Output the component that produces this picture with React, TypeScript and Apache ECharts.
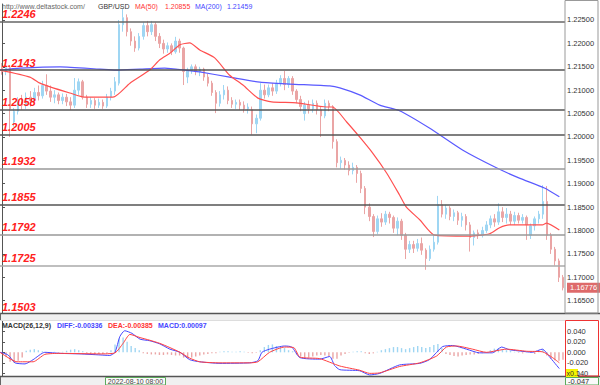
import React, { useEffect, useRef } from "react";
import * as echarts from "echarts";

// [open, close, low, high]
const candles: number[][] = [
  [1.2150, 1.2140, 1.2133, 1.2158], [1.2140, 1.2148, 1.2132, 1.2153], [1.2148, 1.2060, 1.2000, 1.2152],
  [1.2032, 1.2055, 1.2022, 1.2062], [1.2055, 1.2075, 1.2048, 1.2085], [1.2075, 1.2068, 1.2058, 1.2090],
  [1.2068, 1.2085, 1.2060, 1.2095], [1.2085, 1.2078, 1.2065, 1.2098], [1.2078, 1.2095, 1.2070, 1.2105],
  [1.2095, 1.2088, 1.2078, 1.2110], [1.2088, 1.2110, 1.2082, 1.2120], [1.2110, 1.2098, 1.2090, 1.2134],
  [1.2098, 1.2085, 1.2075, 1.2110], [1.2085, 1.2090, 1.2072, 1.2100], [1.2090, 1.2078, 1.2070, 1.2095],
  [1.2078, 1.2085, 1.2070, 1.2093], [1.2085, 1.2075, 1.2066, 1.2092], [1.2075, 1.2068, 1.2058, 1.2085],
  [1.2068, 1.2100, 1.2062, 1.2126], [1.2100, 1.2118, 1.2090, 1.2125], [1.2118, 1.2085, 1.2080, 1.2122],
  [1.2085, 1.2070, 1.2062, 1.2090], [1.2070, 1.2078, 1.2062, 1.2085], [1.2078, 1.2068, 1.2060, 1.2083],
  [1.2068, 1.2074, 1.2062, 1.2082], [1.2074, 1.2066, 1.2060, 1.2080], [1.2066, 1.2085, 1.2062, 1.2092],
  [1.2085, 1.2098, 1.2078, 1.2105], [1.2098, 1.2118, 1.2090, 1.2128], [1.2115, 1.2240, 1.2110, 1.2250],
  [1.2240, 1.2255, 1.2225, 1.2274], [1.2255, 1.2225, 1.2215, 1.2262], [1.2225, 1.2205, 1.2195, 1.2232],
  [1.2205, 1.2190, 1.2182, 1.2215], [1.2190, 1.2215, 1.2185, 1.2222], [1.2215, 1.2238, 1.2208, 1.2245],
  [1.2238, 1.2225, 1.2215, 1.2248], [1.2225, 1.2240, 1.2218, 1.2248], [1.2240, 1.2215, 1.2205, 1.2245],
  [1.2215, 1.2200, 1.2190, 1.2222], [1.2200, 1.2188, 1.2178, 1.2208], [1.2188, 1.2195, 1.2180, 1.2202],
  [1.2195, 1.2182, 1.2175, 1.2200], [1.2182, 1.2205, 1.2178, 1.2214], [1.2205, 1.2190, 1.2180, 1.2210],
  [1.2190, 1.2140, 1.2111, 1.2193], [1.2128, 1.2142, 1.2115, 1.2148], [1.2142, 1.2150, 1.2135, 1.2155],
  [1.2150, 1.2140, 1.2132, 1.2155], [1.2140, 1.2145, 1.2130, 1.2150], [1.2145, 1.2128, 1.2120, 1.2148],
  [1.2128, 1.2115, 1.2108, 1.2135], [1.2115, 1.2095, 1.2088, 1.2120], [1.2095, 1.2072, 1.2051, 1.2100],
  [1.2072, 1.2090, 1.2065, 1.2098], [1.2090, 1.2100, 1.2080, 1.2111], [1.2100, 1.2078, 1.2070, 1.2108],
  [1.2078, 1.2070, 1.2062, 1.2085], [1.2070, 1.2074, 1.2060, 1.2080], [1.2074, 1.2068, 1.2058, 1.2080],
  [1.2068, 1.2060, 1.2052, 1.2076], [1.2060, 1.2064, 1.2050, 1.2072], [1.2058, 1.2028, 1.2005, 1.2065],
  [1.2028, 1.2040, 1.2008, 1.2048], [1.2040, 1.2100, 1.2035, 1.2115], [1.2100, 1.2090, 1.2082, 1.2112],
  [1.2090, 1.2105, 1.2085, 1.2112], [1.2105, 1.2098, 1.2088, 1.2115], [1.2098, 1.2115, 1.2092, 1.2122],
  [1.2115, 1.2125, 1.2108, 1.2132], [1.2125, 1.2112, 1.2100, 1.2141], [1.2112, 1.2125, 1.2105, 1.2130],
  [1.2125, 1.2098, 1.2090, 1.2130], [1.2098, 1.2080, 1.2072, 1.2102], [1.2080, 1.2065, 1.2055, 1.2088],
  [1.2050, 1.2068, 1.2035, 1.2075], [1.2068, 1.2060, 1.2050, 1.2078], [1.2060, 1.2072, 1.2052, 1.2080],
  [1.2072, 1.2058, 1.2048, 1.2078], [1.2058, 1.2045, 1.2000, 1.2065], [1.2045, 1.2072, 1.2040, 1.2080],
  [1.2072, 1.2065, 1.2055, 1.2078], [1.2065, 1.1990, 1.1975, 1.2068], [1.1990, 1.1945, 1.1935, 1.1995],
  [1.1945, 1.1950, 1.1932, 1.1958], [1.1950, 1.1940, 1.1930, 1.1955], [1.1940, 1.1928, 1.1918, 1.1948],
  [1.1928, 1.1935, 1.1920, 1.1945], [1.1935, 1.1922, 1.1902, 1.1940], [1.1922, 1.1890, 1.1880, 1.1928],
  [1.1890, 1.1850, 1.1835, 1.1895], [1.1850, 1.1830, 1.1820, 1.1858], [1.1830, 1.1798, 1.1786, 1.1835],
  [1.1798, 1.1825, 1.1792, 1.1832], [1.1825, 1.1818, 1.1808, 1.1837], [1.1818, 1.1835, 1.1812, 1.1842],
  [1.1835, 1.1828, 1.1815, 1.1840], [1.1828, 1.1805, 1.1795, 1.1832], [1.1805, 1.1820, 1.1790, 1.1828],
  [1.1820, 1.1790, 1.1780, 1.1825], [1.1790, 1.1760, 1.1739, 1.1795], [1.1760, 1.1770, 1.1752, 1.1778],
  [1.1770, 1.1762, 1.1752, 1.1778], [1.1762, 1.1772, 1.1755, 1.1782], [1.1772, 1.1758, 1.1748, 1.1785],
  [1.1758, 1.1740, 1.1716, 1.1762], [1.1740, 1.1760, 1.1735, 1.1768], [1.1760, 1.1775, 1.1755, 1.1790],
  [1.1775, 1.1855, 1.1770, 1.1874], [1.1855, 1.1835, 1.1828, 1.1865], [1.1835, 1.1848, 1.1825, 1.1855],
  [1.1848, 1.1830, 1.1822, 1.1852], [1.1830, 1.1838, 1.1820, 1.1845], [1.1838, 1.1822, 1.1812, 1.1842],
  [1.1822, 1.1830, 1.1808, 1.1838], [1.1830, 1.1812, 1.1800, 1.1835], [1.1812, 1.1785, 1.1755, 1.1818],
  [1.1785, 1.1795, 1.1768, 1.1800], [1.1795, 1.1790, 1.1782, 1.1802], [1.1790, 1.1800, 1.1785, 1.1808],
  [1.1800, 1.1812, 1.1795, 1.1820], [1.1812, 1.1825, 1.1805, 1.1832], [1.1825, 1.1818, 1.1808, 1.1835],
  [1.1818, 1.1840, 1.1812, 1.1858], [1.1840, 1.1828, 1.1818, 1.1850], [1.1828, 1.1835, 1.1815, 1.1848],
  [1.1835, 1.1820, 1.1812, 1.1842], [1.1820, 1.1832, 1.1812, 1.1840], [1.1832, 1.1822, 1.1815, 1.1838],
  [1.1822, 1.1828, 1.1815, 1.1835], [1.1828, 1.1812, 1.1780, 1.1832], [1.1790, 1.1810, 1.1782, 1.1815],
  [1.1810, 1.1825, 1.1800, 1.1830], [1.1825, 1.1835, 1.1815, 1.1842], [1.1835, 1.1862, 1.1825, 1.1897],
  [1.1862, 1.1790, 1.1780, 1.1895], [1.1790, 1.1760, 1.1750, 1.1795], [1.1760, 1.1735, 1.1725, 1.1765],
  [1.1735, 1.1700, 1.1690, 1.1740], [1.1700, 1.16776, 1.1672, 1.1705],
];

const categories: string[] = candles.map((_, i) => String(i));

// [candle index, price]
const ma50: number[][] = [
  [-0.5, 1.2143], [6.9, 1.2128], [9.4, 1.2115], [11.9, 1.2107], [16.8, 1.2094], [20.5, 1.2085],
  [27.5, 1.2085], [31.7, 1.2115], [36.6, 1.2143], [39.1, 1.2165], [41.6, 1.2179], [44.1, 1.2197],
  [46.5, 1.2201], [49.0, 1.2186], [52.7, 1.2169], [56.4, 1.2132], [59.7, 1.2111], [63.4, 1.2083],
  [66.8, 1.2075], [73.0, 1.2073], [80.4, 1.2064], [81.9, 1.2064], [85.4, 1.2032], [88.6, 1.2000],
  [91.8, 1.1966], [95.3, 1.1923], [98.5, 1.1876], [100.2, 1.1850], [103.5, 1.1823], [107.2, 1.1790],
  [115.8, 1.1788], [120.8, 1.1793], [123.3, 1.1806], [125.7, 1.1812], [133.9, 1.1812], [134.9, 1.1816],
  [138.1, 1.1801],
];
const ma200: number[][] = [
  [-0.5, 1.2143], [4.5, 1.2147], [14.4, 1.2150], [24.3, 1.2145], [28.2, 1.2143], [34.2, 1.2145],
  [40.3, 1.2147], [45.3, 1.2143], [49.0, 1.2139], [56.4, 1.2128], [63.9, 1.2117], [71.3, 1.2113],
  [81.2, 1.2109], [83.7, 1.2105], [88.6, 1.2090], [93.6, 1.2068], [98.5, 1.2056], [105.9, 1.2019],
  [114.1, 1.1972], [122.5, 1.1934], [128.2, 1.1912], [134.4, 1.1891], [138.1, 1.1872],
];

const diff: number[][] = [
  [-0.5, 0], [1.5, -0.005], [3.2, -0.02], [5.7, -0.022], [7.7, -0.014], [10.6, 0], [14.4, -0.002],
  [19.3, -0.003], [24.3, -0.005], [26.7, -0.006], [28.0, 0], [29.2, 0.03], [30.4, 0.041], [32.2, 0.036],
  [34.2, 0.025], [36.6, 0.022], [39.1, 0.016], [41.6, 0.006], [44.1, 0], [46.5, -0.014], [49.0, -0.018],
  [54.0, -0.021], [61.4, -0.02], [63.4, -0.016], [64.4, 0], [66.3, 0.006], [70.0, 0.012], [71.8, 0.01],
  [73.8, -0.01], [78.7, -0.013], [81.2, -0.008], [82.4, -0.025], [83.7, -0.033], [88.6, -0.035],
  [91.1, -0.043], [93.6, -0.04], [98.5, -0.024], [103.5, -0.021], [105.9, -0.014], [107.7, 0],
  [109.2, 0.011], [111.6, 0.013], [115.1, 0.006], [118.3, -0.001], [121.5, -0.001], [123.8, 0.01],
  [125.7, 0.005], [130.0, 0.001], [131.4, 0], [133.9, 0.006], [135.6, -0.008], [138.1, -0.031],
];
const dea: number[][] = [
  [-0.5, 0], [3.7, -0.018], [7.7, -0.018], [10.6, -0.004], [14.4, -0.002], [24.3, -0.003], [28.0, -0.001],
  [30.0, 0.017], [31.7, 0.034], [34.2, 0.028], [36.6, 0.023], [39.1, 0.017], [41.6, 0.009], [44.1, 0],
  [46.5, -0.011], [49.0, -0.018], [54.0, -0.02], [61.4, -0.02], [63.4, -0.018], [66.3, 0], [70.0, 0.01],
  [72.3, 0.009], [73.8, -0.009], [78.7, -0.012], [83.7, -0.026], [88.6, -0.034], [91.1, -0.04],
  [93.6, -0.039], [98.5, -0.027], [103.5, -0.02], [107.7, -0.007], [110.1, 0.01], [112.6, 0.012],
  [116.6, 0.006], [120.0, 0], [125.0, 0.006], [130.0, 0.002], [133.9, 0.001], [136.4, -0.01], [138.1, -0.02],
];
const hist: number[] = [
  0, -0.008, -0.018, -0.02, -0.016, -0.01, 0.003, 0.005, 0.006, 0.004, 0.002,
  -0.002, -0.001, 0.001, -0.001, 0.001, 0.003, 0.005, 0.006, 0.004, 0.002,
  -0.002, -0.003, -0.004, -0.003, -0.003, -0.002, 0.004, 0.015, 0.026, 0.028, 0.02,
  0.012, 0.008, 0.004, -0.002, -0.003, -0.004, -0.004, -0.005, -0.005, -0.004, -0.005, -0.006, -0.006,
  -0.01, -0.012, -0.01, -0.008, -0.006,
  -0.004, -0.003, -0.002, -0.002, 0.001, 0.002, 0.002, 0.001, 0.001, 0.002, 0.001, -0.001, -0.002, -0.001,
  0.004, 0.01, 0.014, 0.015, 0.012, 0.01, 0.008, 0.004, 0.002,
  -0.004, -0.008, -0.01, -0.01, -0.008, -0.006, -0.005, -0.006, -0.008, -0.012, -0.012,
  -0.006, -0.003, -0.001, 0.001, 0.002, 0.002, -0.002, -0.003, -0.002, 0.001,
  0.004, 0.006, 0.008, 0.01, 0.01, 0.008, 0.006, 0.008, 0.01, 0.012, 0.01, 0.008,
  0.01, 0.014, 0.016, 0.008,
  -0.003, -0.005, -0.007, -0.008, -0.006, -0.005, -0.004, -0.004, -0.003, -0.002, -0.001,
  0.004, 0.007, 0.008, 0.006, 0.004, 0.003, 0.001,
  -0.001, -0.002, 0.001, -0.001, -0.003, 0.003, 0.006, -0.006, -0.012, -0.015, -0.016, -0.014,
];

const levels: number[] = [1.2246, 1.2143, 1.2058, 1.2005, 1.1932, 1.1855, 1.1792, 1.1725];
const levelColors: string[] = ["#666", "#555", "#555", "#555", "#999", "#555", "#999", "#aaa"];
const lowLevel = "1.1503";
const priceTicks: number[] = [1.165, 1.17, 1.175, 1.18, 1.185, 1.19, 1.195, 1.2, 1.205, 1.21, 1.215, 1.22, 1.225];
const macdTicks: number[] = [-0.04, -0.02, 0, 0.02, 0.04];
const headerItems = [
  { text: "http://www.deltastock.com/", x: 2, color: "#666" },
  { text: "GBP/USD", x: 98, color: "#333" },
  { text: "MA(50)", x: 135, color: "#ff3333" },
  { text: "1.20855", x: 165, color: "#ff3333" },
  { text: "MA(200)", x: 195, color: "#4646ff" },
  { text: "1.21459", x: 227, color: "#4646ff" },
];
const macdItems = [
  { text: "MACD(26,12,9)", x: 2, color: "#333" },
  { text: "DIFF:-0.00336", x: 57, color: "#4646ff" },
  { text: "DEA:-0.00385", x: 108, color: "#ff3333" },
  { text: "MACD:0.00097", x: 158, color: "#4646ff" },
];
const cursorDate = "2022-08-10 08:00";
const cursorMacd = "-0.047";

const FONT = "Liberation Sans, Arial, sans-serif";
const UP = "#9fd6f3";
const DOWN = "#eaa5a5";

export default function App() {
  const ref = useRef<HTMLDivElement>(null);
  useEffect(() => {
    if (!ref.current) return;
    const chart = echarts.init(ref.current, null, { renderer: "svg" });
    const N = candles.length;
    const last = candles[N - 1][1];

    const txt = (text: string, x: number, y: number, color: string, extra: any = {}) => ({
      type: "text",
      x,
      y,
      z: 100,
      style: { text, fill: color, fontSize: 7, fontFamily: FONT, verticalAlign: "middle", ...extra },
    });

    const option: any = {
      animation: false,
      backgroundColor: "#ffffff",
      grid: [
        { left: 0, right: 35, top: 4, height: 309 },
        { left: 0, right: 35, top: 320, height: 56 },
      ],
      xAxis: [
        { type: "category", gridIndex: 0, data: categories, boundaryGap: true, show: false },
        { type: "value", gridIndex: 0, min: -0.5, max: N - 0.5, show: false },
        { type: "category", gridIndex: 1, data: categories, boundaryGap: true, show: false },
        { type: "value", gridIndex: 1, min: -0.5, max: N - 0.5, show: false },
      ],
      yAxis: [
        {
          type: "value",
          gridIndex: 0,
          position: "right",
          min: 1.16237,
          max: 1.22842,
          splitLine: { show: false },
          axisLine: { show: true, lineStyle: { color: "#555", width: 1 } },
          axisTick: { show: true, length: 3, customValues: priceTicks, lineStyle: { color: "#555" } },
          axisLabel: {
            customValues: priceTicks,
            formatter: (v: number) => v.toFixed(5),
            fontSize: 7.5,
            color: "#333",
            margin: 2,
            fontFamily: FONT,
          },
        },
        {
          type: "value",
          gridIndex: 1,
          position: "right",
          min: -0.045,
          max: 0.0614,
          splitLine: { show: false },
          axisLine: { show: true, lineStyle: { color: "#555", width: 1 } },
          axisTick: { show: true, length: 3, customValues: macdTicks, lineStyle: { color: "#555" } },
          axisLabel: {
            customValues: macdTicks,
            formatter: (v: number) => v.toFixed(3),
            fontSize: 7.5,
            color: "#333",
            margin: 2,
            fontFamily: FONT,
          },
        },
      ],
      series: [
        {
          type: "candlestick",
          xAxisIndex: 0,
          yAxisIndex: 0,
          data: candles,
          barWidth: 2,
          itemStyle: { color: UP, color0: DOWN, borderColor: UP, borderColor0: DOWN, borderWidth: 1 },
        },
        {
          type: "line",
          xAxisIndex: 1,
          yAxisIndex: 0,
          data: ma200,
          showSymbol: false,
          smooth: 0.2,
          z: 3,
          lineStyle: { color: "#5a5aff", width: 1.2 },
          markLine: {
            silent: true,
            symbol: "none",
            animation: false,
            precision: 5,
            data: [
              ...levels.map((v, k) => ({
                yAxis: v,
                lineStyle: { color: levelColors[k], width: 1.5, type: "solid" },
                label: {
                  show: true,
                  position: "insideStartTop",
                  formatter: v.toFixed(4),
                  color: "#ff2020",
                  fontSize: 11,
                  fontWeight: "bold",
                  fontStyle: "italic",
                  fontFamily: FONT,
                  distance: [2, 2],
                },
              })),
            ],
          },
        },
        {
          type: "line",
          xAxisIndex: 1,
          yAxisIndex: 0,
          data: ma50,
          showSymbol: false,
          smooth: 0.2,
          z: 3,
          lineStyle: { color: "#ff5050", width: 1.2 },
          markLine: {
            silent: true,
            symbol: "none",
            animation: false,
            precision: 5,
            lineStyle: { color: "rgba(255,255,255,0)", width: 0.01, type: "solid" },
            data: [
              {
                yAxis: last,
                label: {
                  show: true,
                  position: "end",
                  distance: 2,
                  formatter: last.toFixed(5),
                  color: "#ffffff",
                  backgroundColor: "#de6a6a",
                  opacity: 1,
                  padding: [1, 3, 1, 3],
                  fontSize: 7.5,
                  fontFamily: FONT,
                },
              },
            ],
          },
        },
        {
          type: "bar",
          xAxisIndex: 2,
          yAxisIndex: 1,
          barWidth: 1.4,
          data: hist.map((v) => ({ value: v, itemStyle: { color: v >= 0 ? UP : DOWN } })),
        },
        {
          type: "line",
          xAxisIndex: 3,
          yAxisIndex: 1,
          data: diff,
          showSymbol: false,
          smooth: 0.2,
          lineStyle: { color: "#4646ff", width: 1 },
        },
        {
          type: "line",
          xAxisIndex: 3,
          yAxisIndex: 1,
          data: dea,
          showSymbol: false,
          smooth: 0.2,
          lineStyle: { color: "#ff4040", width: 1 },
        },
      ],
      graphic: [
        // pane separators
        { type: "rect", z: 90, shape: { x: 0, y: 313, width: 600, height: 7 }, style: { fill: "#f0f0f0" } },
        { type: "line", z: 91, shape: { x1: 0, y1: 313.5, x2: 600, y2: 313.5 }, style: { stroke: "#555", lineWidth: 1.5 } },
        { type: "line", z: 91, shape: { x1: 0, y1: 320.5, x2: 565, y2: 320.5 }, style: { stroke: "#ddd", lineWidth: 1 } },
        { type: "rect", z: 90, shape: { x: 0, y: 377, width: 600, height: 8 }, style: { fill: "#f0f0f0" } },
        { type: "line", z: 91, shape: { x1: 0, y1: 376.5, x2: 600, y2: 376.5 }, style: { stroke: "#555", lineWidth: 1.5 } },
        { type: "line", z: 91, shape: { x1: 0.5, y1: 313, x2: 0.5, y2: 320 }, style: { stroke: "#666", lineWidth: 1 } },
        { type: "line", z: 91, shape: { x1: 0.5, y1: 377, x2: 0.5, y2: 385 }, style: { stroke: "#666", lineWidth: 1 } },
        // right axis frames
        { type: "rect", z: 91, shape: { x: 565, y: 0.5, width: 33, height: 312.5 }, style: { fill: "none", stroke: "#999", lineWidth: 1 } },
        { type: "rect", z: 91, shape: { x: 565.5, y: 320.5, width: 33, height: 55.5 }, style: { fill: "none", stroke: "#e33", lineWidth: 1 } },
        // header
        ...headerItems.map((h) => txt(h.text, h.x, 6, h.color)),
        ...macdItems.map((h) => txt(h.text, h.x, 325, h.color, { fontWeight: "bold", fontSize: 7 })),
        // low level label
        txt(lowLevel, 2, 307, "#ff2020", { fontSize: 11, fontWeight: "bold", fontStyle: "italic" }),
        // cursor date box
        { type: "rect", z: 100, shape: { x: 105.5, y: 377.5, width: 60, height: 7.5 }, style: { fill: "#fafafa", stroke: "#5cab5c", lineWidth: 1 } },
        txt(cursorDate, 135.5, 381.5, "#444", { fontSize: 7, align: "center" }),
        // cursor macd box
        { type: "rect", z: 100, shape: { x: 565.5, y: 377.5, width: 33, height: 7.5 }, style: { fill: "#fafafa", stroke: "#5cab5c", lineWidth: 1 } },
        txt(cursorMacd, 568, 381.5, "#333", { fontSize: 7.5 }),
        // multiplier box
        { type: "rect", z: 100, shape: { x: 566, y: 369, width: 12, height: 8 }, style: { fill: "#f5f500" } },
        txt("x0.1", 566.5, 373, "#333", { fontSize: 7 }),
      ],
    };
    chart.setOption(option);
    return () => chart.dispose();
  }, []);
  return <div ref={ref} style={{ position: "fixed", left: 0, top: 0, width: 600, height: 385 }} />;
}
